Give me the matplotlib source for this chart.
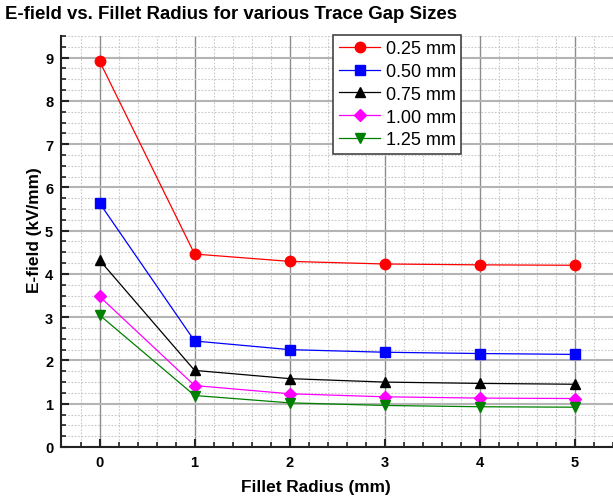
import numpy as np
import matplotlib
matplotlib.use('Agg')
import matplotlib.pyplot as plt
from matplotlib.ticker import MultipleLocator

# fillet radius (mm) on the x axis
radius = [0, 1, 2, 3, 4, 5]

# E-field (kV/mm) for each trace gap
gap_025 = [8.92, 4.46, 4.29, 4.23, 4.21, 4.20]
gap_050 = [5.64, 2.45, 2.25, 2.19, 2.16, 2.14]
gap_075 = [4.32, 1.77, 1.58, 1.50, 1.47, 1.45]
gap_100 = [3.48, 1.42, 1.23, 1.16, 1.13, 1.12]
gap_125 = [3.05, 1.19, 1.02, 0.96, 0.93, 0.92]

labels = ['0.25 mm', '0.50 mm', '0.75 mm', '1.00 mm', '1.25 mm']

plt.rcParams['font.family'] = ['Liberation Sans', 'DejaVu Sans']

fig = plt.figure(figsize=(6.13, 5.02), dpi=100)
ax = fig.add_axes([0.1003, 0.1076, 0.8997, 0.8187])

styles = [('#ff0000', 'o', 7.5),
          ('#0000ff', 's', 6.5),
          ('#000000', '^', 7.5),
          ('#ff00ff', 'D', 6.5),
          ('#008000', 'v', 7.5)]

for ys, lab, (col, mk, ms) in zip([gap_025, gap_050, gap_075, gap_100, gap_125], labels, styles):
    ax.plot(radius, ys, color=col, marker=mk, markersize=ms, lw=0.9,
            markeredgecolor=col, label=lab, zorder=3, clip_on=False)

ax.set_xlim(-0.4, 5.4)
ax.set_ylim(0, 9.5)
ax.xaxis.set_major_locator(MultipleLocator(1))
ax.xaxis.set_minor_locator(MultipleLocator(0.2))
ax.yaxis.set_major_locator(MultipleLocator(1))
ax.yaxis.set_minor_locator(MultipleLocator(0.25))

ax.grid(which='major', axis='x', color='#8c8c8c', lw=1.0, ls='-')
ax.grid(which='major', axis='y', color='#b4b4b4', lw=1.5, ls='-')
ax.grid(which='minor', color='#c8c8c8', lw=0.8, ls=(0, (1.5, 1.5)))
ax.set_axisbelow(True)

for s in ['top', 'right']:
    ax.spines[s].set_visible(False)
for s in ['left', 'bottom']:
    ax.spines[s].set_linewidth(1.5)
    ax.spines[s].set_color('#222222')

ax.tick_params(which='major', direction='in', length=6, width=1.5, color='#222222',
               labelsize=10.5, pad=6)
ax.tick_params(which='minor', direction='in', length=3.5, width=1.2, color='#222222')
for t in ax.get_xticklabels() + ax.get_yticklabels():
    t.set_fontweight('bold')

ax.set_xlabel('Fillet Radius (mm)', fontsize=12.4, fontweight='bold')
ax.set_ylabel('E-field (kV/mm)', fontsize=12.4, fontweight='bold')
ax.xaxis.set_label_coords(0.461, -0.077)
ax.yaxis.set_label_coords(-0.036, 0.53)

fig.text(0.008, 0.972, 'E-field vs. Fillet Radius for various Trace Gap Sizes',
         fontsize=13.4, fontweight='bold', ha='left', va='center')

leg = ax.legend(loc='upper left', bbox_to_anchor=(0.493, 1.003), fontsize=13,
                frameon=True, fancybox=False, framealpha=1, edgecolor='#444444',
                handlelength=2.3, handletextpad=0.3, labelspacing=0.32,
                borderpad=0.3, borderaxespad=0.0)
leg.get_frame().set_linewidth(1.2)

fig.savefig('out.png', dpi=100)
